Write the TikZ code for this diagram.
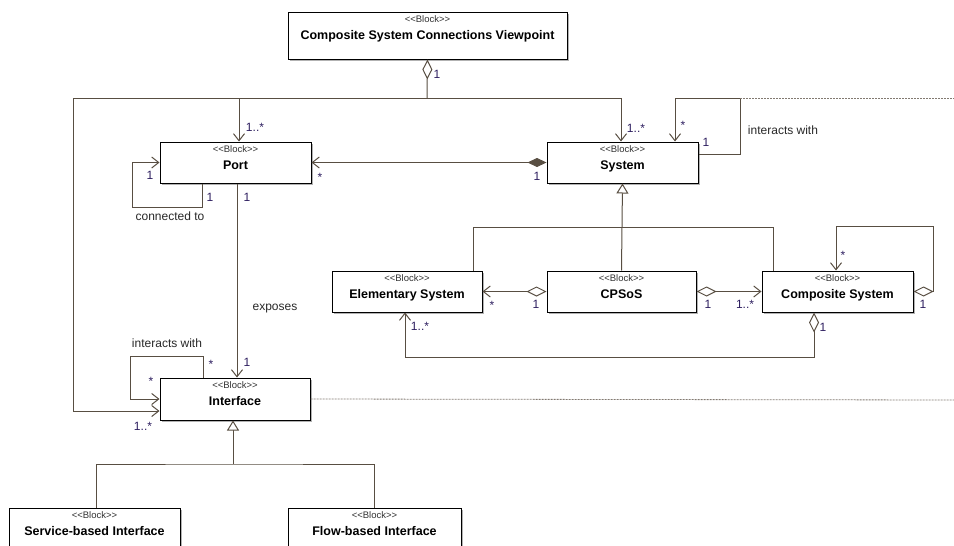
\documentclass[tikz,border=0pt]{standalone}
\usepackage{fontspec}
\setmainfont{Liberation Sans}
\usetikzlibrary{arrows.meta,shadows}
\definecolor{wire}{RGB}{88,78,66}
\definecolor{mult}{RGB}{45,30,95}
\definecolor{note}{RGB}{40,40,40}

\tikzset{
  umlagg/.tip={Diamond[fill=white,length=20pt,width=10pt,line width=1pt]},
  umlcomp/.tip={Diamond[length=19pt,width=9pt]},
  umlnav/.tip={Straight Barb[length=7pt,width=11pt,line width=1pt]},
  umlgen/.tip={Triangle[fill=white,length=10pt,width=12pt,line width=1pt]},
  blockbox/.style={draw=black, line width=1pt, fill=white, inner sep=0pt,
    drop shadow={shadow xshift=1.5pt,shadow yshift=-1.5pt,fill=black,opacity=0.3}},
  stereo/.style={font=\fontsize{9.5}{10}\selectfont, text=black!80, inner sep=0pt,
    text height=1.5ex, text depth=.25ex},
  blocktitle/.style={font=\fontsize{12.5}{14}\selectfont\bfseries, text=black, inner sep=0pt,
    text height=1.5ex, text depth=.25ex},
  wire/.style={draw=wire, line width=1pt},
  dashwire/.style={draw=wire!75, line width=0.8pt, dash pattern=on 2pt off 1pt},
  mult/.style={font=\fontsize{12}{14}\selectfont, text=mult, inner sep=0pt,
    text height=1.5ex, text depth=.25ex},
  assoc/.style={font=\fontsize{12}{14}\selectfont, text=note, inner sep=0pt,
    text height=1.5ex, text depth=.25ex},
}

% block with stereotype: name, centre x, centre y, width, height, title
\newcommand\umlblock[6]{%
  \node[blockbox, minimum width=#4pt, minimum height=#5pt] (#1) at (#2,#3) {};
  \node[stereo] (#1-st) at ([yshift=-8pt]#1.north) {{<}{<}Block{>}{>}};
  \node[blocktitle] (#1-ti) at ([yshift=-24.5pt]#1.north) {#6};
}

\begin{document}
\begin{tikzpicture}[x=1pt,y=-1pt]
\useasboundingbox (0,0) rectangle (954,546);

% blocks
\umlblock{top}{427.5}{35.5}{279}{47}{Composite System Connections Viewpoint}
\umlblock{port}{235.5}{162.5}{151}{41}{Port}
\umlblock{system}{622.5}{162.5}{151}{41}{System}
\umlblock{elem}{407}{291.5}{150}{41}{Elementary System}
\umlblock{cpsos}{621.5}{291.5}{149}{41}{CPSoS}
\umlblock{comp}{837.5}{291.5}{151}{41}{Composite System}
\umlblock{iface}{235}{399}{150}{42}{Interface}
\umlblock{svc}{94.5}{529}{171}{42}{Service-based Interface}
\umlblock{flow}{374.5}{529}{173}{42}{Flow-based Interface}

% junction points
\coordinate (bus) at (427,98);
\coordinate (sysloop) at (740,98);
\coordinate (ig) at (233,464);

% viewpoint aggregation
\draw[wire, umlagg-] (top.south) -- (bus);
\draw[wire, -umlnav] (bus) -| ([xshift=3.5pt]port.north);
\draw[wire, -umlnav] (bus) -| ([xshift=-1.5pt]system.north);
\draw[wire, -umlnav] (bus) -| (73,411) -- ([yshift=-12pt]iface.west);

% port connected to port
\draw[wire, -umlnav] ([xshift=-33pt]port.south) -- ++(0,24) -| ([xshift=-27pt]port.west) -- (port.west);

% system owns ports
\draw[wire, umlcomp-umlnav] (system.west) -- (port.east);

% port exposes interface
\draw[wire, -umlnav] ([xshift=1.5pt]port.south) -- ([xshift=2pt]iface.north);

% system interacts with system
\draw[wire, -umlnav] ([yshift=8.5pt]system.east) -| (sysloop) -| ([xshift=52.5pt]system.north);
\draw[dashwire] (sysloop) -- (954,98);

% specialisations of system
\draw[wire, -umlgen] (cpsos.north) -- (system.south);
\draw[wire] ([xshift=66pt]elem.north) -- ++(0,-43) -| ([xshift=-64.5pt]comp.north);

% CPSoS aggregations
\draw[wire, umlagg-umlnav] (cpsos.west) -- (elem.east);
\draw[wire, umlagg-umlnav] (cpsos.east) -- (comp.west);

% composite system aggregations
\draw[wire, umlagg-umlnav] (comp.east) -- ++(20,0) -- ++(0,-65) -| ([xshift=-1.5pt]comp.north);
\draw[wire, umlagg-umlnav] ([xshift=-23.5pt]comp.south) -- ++(0,45) -| ([xshift=-2pt]elem.south);

% interface interacts with interface
\draw[wire, -umlnav] ([xshift=-32pt]iface.north) -- ++(0,-21) -| ([xshift=-29pt]iface.west) -- (iface.west);
\draw[dashwire] (iface.east) -- (954,400);

% specialisations of interface
\draw[wire, -umlgen] (ig) -- ([xshift=-2pt]iface.south);
\draw[wire] ([xshift=1.5pt]svc.north) |- (ig) -| (flow.north);

% multiplicities and association names
\node[mult] (m1) at (437,75) {1};
\node[mult] (m2) at (255,128) {1..*};
\node[mult] (m3) at (150,176) {1};
\node[mult] (m4) at (210,198) {1};
\node[mult] (m5) at (247,198) {1};
\node[assoc] (a1) at (170,217) {connected to};
\node[mult] (m6) at (320,178) {*};
\node[mult] (m7) at (636,129) {1..*};
\node[mult] (m8) at (683,126) {*};
\node[mult] (m9) at (706,143) {1};
\node[assoc] (a2) at (783,131) {interacts with};
\node[mult] (m10) at (537,177) {1};
\node[assoc] (a3) at (275,307) {exposes};
\node[mult] (m11) at (492,306) {*};
\node[mult] (m12) at (536,305) {1};
\node[mult] (m13) at (420,327) {1..*};
\node[mult] (m14) at (708,305) {1};
\node[mult] (m15) at (745,305) {1..*};
\node[mult] (m16) at (843,256) {*};
\node[mult] (m17) at (923,305) {1};
\node[mult] (m18) at (823,328) {1};
\node[mult] (m19) at (247,363) {1};
\node[mult] (m20) at (211,365) {*};
\node[mult] (m21) at (151,382) {*};
\node[assoc] (a4) at (167,344) {interacts with};
\node[mult] (m22) at (143,427) {1..*};
\end{tikzpicture}
\end{document}
